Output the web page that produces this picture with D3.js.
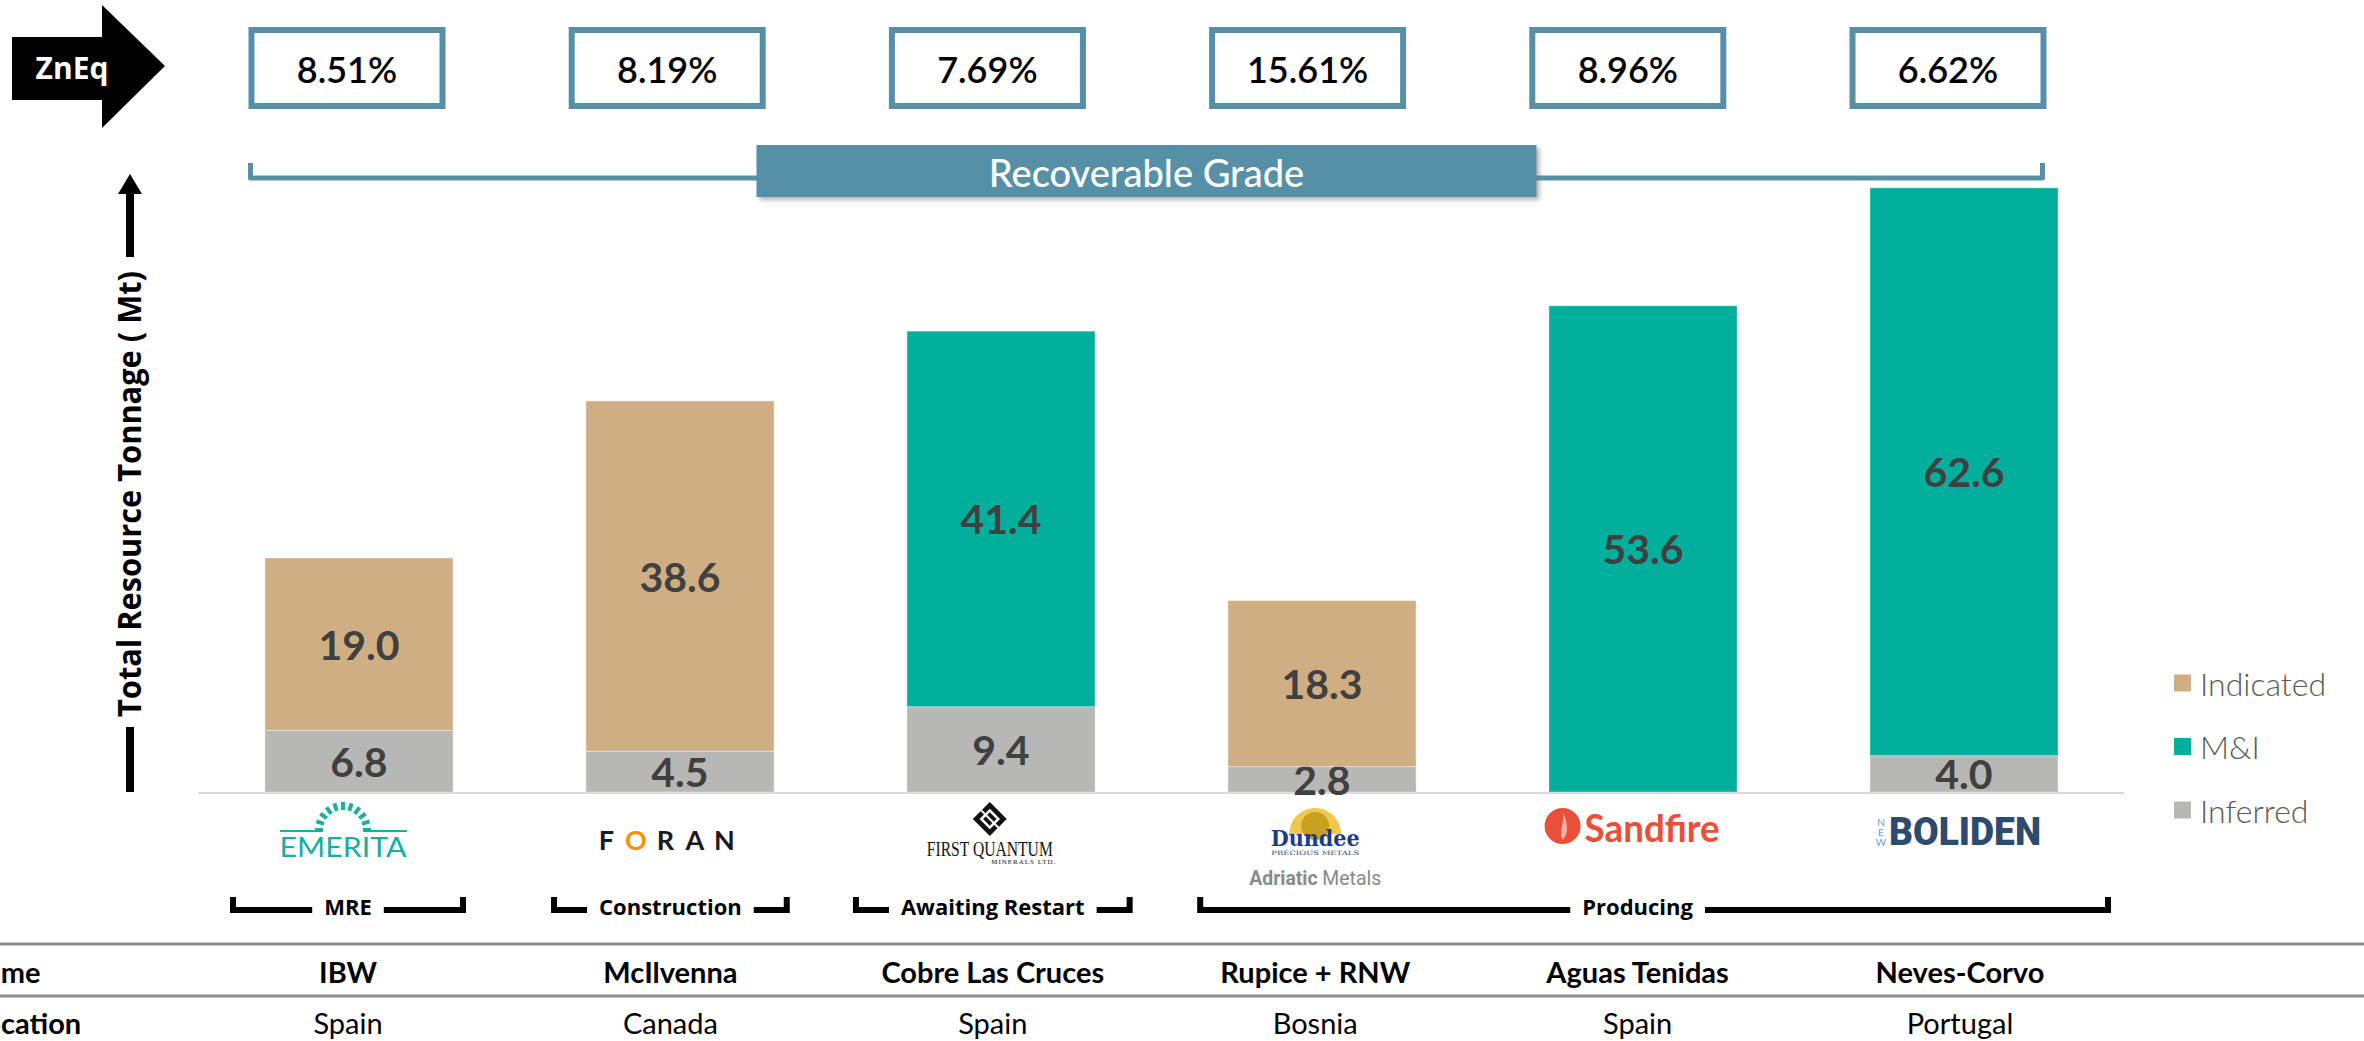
<!DOCTYPE html>
<html>
<head>
<meta charset="utf-8">
<script src="https://cdn.jsdelivr.net/npm/d3@7"></script>
<style>
  html, body { margin: 0; padding: 0; background: #fff; overflow: hidden; }
  svg { display: block; }
</style>
</head>
<body>
<div id="chart"></div>
<script>
// ---- data ----
const projects = ["IBW", "McIlvenna", "Cobre Las Cruces", "Rupice + RNW", "Aguas Tenidas", "Neves-Corvo"];
const countries = ["Spain", "Canada", "Spain", "Bosnia", "Spain", "Portugal"];
const companies = ["Emerita", "Foran", "First Quantum", "Dundee", "Sandfire", "Boliden"];
const grades = [8.51, 8.19, 7.69, 15.61, 8.96, 6.62];

const inferred = [6.8, 4.5, 9.4, 2.8, 0, 4.0];
const indicated = [19.0, 38.6, 0, 18.3, 0, 0];
const measuredIndicated = [0, 0, 41.4, 0, 53.6, 62.6];

const seriesKeys = ["Inferred", "Indicated", "M&I"];
const legendKeys = ["Indicated", "M&I", "Inferred"];
const colors = { "Indicated": "#D0AE84", "M&I": "#02AF9C", "Inferred": "#B7B8B5" };

const stages = [
  { label: "MRE", first: 0, last: 0 },
  { label: "Construction", first: 1, last: 1 },
  { label: "Awaiting Restart", first: 2, last: 2 },
  { label: "Producing", first: 3, last: 5 }
];

const W = 2364, H = 1041;
const teal = "#5790A6";
const sans = "Lato, 'Open Sans', sans-serif";
const calibri = "'Open Sans', 'DejaVu Sans', sans-serif";

const rows = projects.map((p, i) => ({
  project: p,
  "Inferred": inferred[i],
  "Indicated": indicated[i],
  "M&I": measuredIndicated[i]
}));

const svg = d3.select("#chart").append("svg")
  .attr("width", W).attr("height", H);

const defs = svg.append("defs");
const shadow = defs.append("filter").attr("id", "shadow")
  .attr("x", "-5%").attr("y", "-20%").attr("width", "115%").attr("height", "160%");
shadow.append("feDropShadow").attr("dx", 3).attr("dy", 3).attr("stdDeviation", 2)
  .attr("flood-color", "#777").attr("flood-opacity", 0.55);

// ---- scales ----
const x = d3.scaleBand().domain(projects).range([198.5, 2124.5])
  .paddingInner(0.414).paddingOuter(0.207);
const xc = d => x(d) + x.bandwidth() / 2;
// annotation columns (grades, logos, table) sit a touch left of the bars
const xa = d3.scalePoint().domain(projects).range([348, 1960]);
const xb = d3.scalePoint().domain(projects).range([347, 1948]);
const y = d3.scaleLinear().domain([0, 70]).range([792, 157]);

const stack = d3.stack().keys(seriesKeys);
const stacked = stack(rows);

// ---- baseline ----
svg.append("line")
  .attr("x1", x.range()[0]).attr("x2", x.range()[1])
  .attr("y1", y(0) + 1).attr("y2", y(0) + 1)
  .attr("stroke", "#d9d9d9").attr("stroke-width", 2);

// ---- bars ----
const layer = svg.append("g").selectAll("g")
  .data(stacked)
  .join("g")
  .attr("fill", d => colors[d.key]);

layer.selectAll("rect")
  .data(d => d.map(v => ({ key: d.key, v })))
  .join("rect")
  .attr("x", d => x(d.v.data.project))
  .attr("width", x.bandwidth())
  .attr("y", d => y(d.v[1]))
  .attr("height", d => y(d.v[0]) - y(d.v[1]))
  .attr("stroke", "rgba(255,255,255,0.35)")
  .attr("stroke-width", 1);

// value labels
layer.selectAll("text")
  .data(d => d.filter(v => v[1] - v[0] > 0).map(v => ({ key: d.key, v })))
  .join("text")
  .attr("x", d => xc(d.v.data.project))
  .attr("y", d => y((d.v[0] + d.v[1]) / 2))
  .attr("text-anchor", "middle")
  .attr("dominant-baseline", "central")
  .attr("fill", "#404040")
  .attr("font-family", sans)
  .attr("font-weight", 700)
  .attr("font-size", 41)
  .text(d => d3.format(".1f")(d.v[1] - d.v[0]));

// ---- legend ----
const legend = svg.append("g").selectAll("g")
  .data(legendKeys)
  .join("g")
  .attr("transform", (d, i) => `translate(2174, ${683 + i * 63.5})`);
legend.append("rect")
  .attr("x", 0).attr("y", -8.5).attr("width", 17).attr("height", 17)
  .attr("fill", d => colors[d]);
legend.append("text")
  .attr("x", 26).attr("y", 0)
  .attr("dominant-baseline", "central")
  .attr("fill", "#595959")
  .attr("font-family", sans)
  .attr("font-weight", 300)
  .attr("font-size", 32)
  .text(d => d);

// ---- ZnEq arrow ----
svg.append("polygon")
  .attr("points", "12,37 102,37 102,5 165,66 102,128 102,100 12,100")
  .attr("fill", "#000");
svg.append("text")
  .attr("x", 72).attr("y", 67)
  .attr("text-anchor", "middle").attr("dominant-baseline", "central")
  .attr("fill", "#fff").attr("font-family", calibri).attr("font-weight", 700)
  .attr("font-size", 30).text("ZnEq");

// ---- grade boxes ----
const boxW = 191, boxH = 76;
const boxes = svg.append("g").selectAll("g")
  .data(projects)
  .join("g")
  .attr("transform", d => `translate(${xb(d)}, 68)`);
boxes.append("rect")
  .attr("x", -boxW / 2).attr("y", -boxH / 2)
  .attr("width", boxW).attr("height", boxH)
  .attr("fill", "#fff").attr("stroke", teal).attr("stroke-width", 6);
boxes.append("text")
  .attr("text-anchor", "middle").attr("dominant-baseline", "central")
  .attr("y", 1)
  .attr("fill", "#000").attr("font-family", sans).attr("font-weight", 600)
  .attr("font-size", 36)
  .text((d, i) => d3.format(".2f")(grades[i]) + "%");

// ---- recoverable grade bracket ----
const bx0 = xb(projects[0]) - boxW / 2 - 1;
const bx1 = xb(projects[projects.length - 1]) + boxW / 2 - 1;
svg.append("path")
  .attr("d", `M${bx0},163 L${bx0},178 L${bx1},178 L${bx1},163`)
  .attr("fill", "none").attr("stroke", teal).attr("stroke-width", 5)
  .attr("stroke-linejoin", "round");
const bannerC = (bx0 + bx1) / 2;
svg.append("rect")
  .attr("x", bannerC - 390).attr("y", 145).attr("width", 780).attr("height", 52)
  .attr("fill", "#5690A6").attr("filter", "url(#shadow)");
svg.append("text")
  .attr("x", bannerC).attr("y", 172)
  .attr("text-anchor", "middle").attr("dominant-baseline", "central")
  .attr("fill", "#fff").attr("font-family", sans).attr("font-weight", 500).attr("font-size", 38)
  .text("Recoverable Grade");

// ---- y-axis title with arrow ----
const ax = 130;
svg.append("line").attr("x1", ax).attr("x2", ax).attr("y1", 792).attr("y2", 727)
  .attr("stroke", "#000").attr("stroke-width", 8);
svg.append("line").attr("x1", ax).attr("x2", ax).attr("y1", 257).attr("y2", 190)
  .attr("stroke", "#000").attr("stroke-width", 8);
svg.append("polygon")
  .attr("points", `${ax - 12},194 ${ax + 12},194 ${ax},174`).attr("fill", "#000");
svg.append("text")
  .attr("transform", `translate(128, 494) rotate(-90)`)
  .attr("text-anchor", "middle").attr("dominant-baseline", "central")
  .attr("fill", "#000").attr("font-family", calibri).attr("font-weight", 700)
  .attr("font-size", 33)
  .attr("textLength", 446).attr("lengthAdjust", "spacingAndGlyphs")
  .text("Total Resource Tonnage ( Mt)");

// ---- company logos (approximations) ----
const logos = svg.append("g");
function drawLogo(name, cx) {
  const g = logos.append("g").attr("transform", `translate(${cx},0)`);
  if (name === "Emerita") {
    const c = "#1AAE9F";
    const arch = d3.range(11).map(i => Math.PI * (i / 10));
    g.selectAll("line.a").data(arch).join("line")
      .attr("x1", a => -5 + Math.cos(a) * 20).attr("y1", a => 830 - Math.sin(a) * 20)
      .attr("x2", a => -5 + Math.cos(a) * 28).attr("y2", a => 830 - Math.sin(a) * 28)
      .attr("stroke", c).attr("stroke-width", 4);
    g.append("line").attr("x1", -68).attr("x2", -32).attr("y1", 831).attr("y2", 831)
      .attr("stroke", c).attr("stroke-width", 2);
    g.append("line").attr("x1", 22).attr("x2", 59).attr("y1", 831).attr("y2", 831)
      .attr("stroke", c).attr("stroke-width", 2);
    g.append("text").attr("x", -5).attr("y", 857).attr("text-anchor", "middle")
      .attr("fill", c).attr("font-family", sans).attr("font-weight", 400).attr("font-size", 27)
      .attr("textLength", 127).attr("lengthAdjust", "spacingAndGlyphs").text("EMERITA");
  } else if (name === "Foran") {
    "FORAN".split("").forEach((ch, i) => {
      g.append("text").attr("x", -5 + (i - 2) * 29.5).attr("y", 850).attr("text-anchor", "middle")
        .attr("fill", ch === "O" ? "#F39200" : "#1a1a1a")
        .attr("font-family", sans).attr("font-weight", 700).attr("font-size", 27).text(ch);
    });
  } else if (name === "First Quantum") {
    const e = g.append("g").attr("transform", "translate(-3,819) rotate(45)");
    e.append("rect").attr("x", -12).attr("y", -12).attr("width", 24).attr("height", 24)
      .attr("fill", "#111");
    e.append("rect").attr("x", -6).attr("y", -6).attr("width", 12).attr("height", 12)
      .attr("fill", "none").attr("stroke", "#fff").attr("stroke-width", 2.5);
    e.append("line").attr("x1", -12).attr("x2", 12).attr("y1", 0).attr("y2", 0)
      .attr("stroke", "#fff").attr("stroke-width", 2);
    g.append("text").attr("x", -3).attr("y", 856).attr("text-anchor", "middle")
      .attr("fill", "#111").attr("font-family", "'Liberation Serif', serif").attr("font-size", 20)
      .attr("textLength", 126).attr("lengthAdjust", "spacingAndGlyphs").text("FIRST QUANTUM");
    g.append("text").attr("x", 31).attr("y", 864).attr("text-anchor", "middle")
      .attr("fill", "#111").attr("font-family", "'Liberation Serif', serif").attr("font-size", 7)
      .attr("letter-spacing", 1).text("MINERALS LTD.");
  } else if (name === "Dundee") {
    g.append("path")
      .attr("d", d3.arc()({ innerRadius: 0, outerRadius: 26, startAngle: -Math.PI / 2, endAngle: Math.PI / 2 }))
      .attr("transform", "translate(0,834)").attr("fill", "#F0C850");
    g.append("circle").attr("cx", 0).attr("cy", 826).attr("r", 14).attr("fill", "#C9A020");
    g.append("text").attr("x", 0).attr("y", 846).attr("text-anchor", "middle")
      .attr("fill", "#1F3A8A").attr("font-family", "'DejaVu Serif', serif").attr("font-weight", 700)
      .attr("font-size", 22).attr("textLength", 89).attr("lengthAdjust", "spacingAndGlyphs").text("Dundee");
    g.append("text").attr("x", 0).attr("y", 855).attr("text-anchor", "middle")
      .attr("fill", "#1F3A8A").attr("font-family", "'DejaVu Serif', serif").attr("font-size", 6)
      .attr("textLength", 88).attr("lengthAdjust", "spacingAndGlyphs").text("PRECIOUS METALS");
    const t = g.append("text").attr("x", 0).attr("y", 885).attr("text-anchor", "middle")
      .attr("fill", "#8a8a8a").attr("font-family", "'Roboto', sans-serif").attr("font-size", 20)
      .attr("textLength", 132).attr("lengthAdjust", "spacingAndGlyphs");
    t.append("tspan").attr("font-weight", 700).text("Adriatic");
    t.append("tspan").attr("font-weight", 400).text(" Metals");
  } else if (name === "Sandfire") {
    g.append("circle").attr("cx", -75).attr("cy", 826).attr("r", 18).attr("fill", "#E8503A");
    g.append("path").attr("d", "M-75,840 C-80,830 -72,822 -75,812 C-70,822 -68,832 -75,840 Z")
      .attr("fill", "#f6b0a5");
    g.append("text").attr("x", -53).attr("y", 842)
      .attr("fill", "#E8503A").attr("font-family", sans).attr("font-weight", 700).attr("font-size", 38)
      .attr("textLength", 135).attr("lengthAdjust", "spacingAndGlyphs").text("Sandfire");
  } else if (name === "Boliden") {
    ["N", "E", "W"].forEach((ch, i) => {
      g.append("text").attr("x", -79).attr("y", 826 + i * 10).attr("text-anchor", "middle")
        .attr("fill", "#6A9BD0").attr("font-family", sans).attr("font-size", 10).text(ch);
    });
    g.append("text").attr("x", -71).attr("y", 845)
      .attr("fill", "#2E4A6E").attr("font-family", "'Roboto', sans-serif").attr("font-weight", 900)
      .attr("font-size", 38).attr("textLength", 152).attr("lengthAdjust", "spacingAndGlyphs").text("BOLIDEN");
  }
}
companies.forEach((c, i) => drawLogo(c, xa(projects[i])));

// ---- stage brackets ----
const stageG = svg.append("g").selectAll("g")
  .data(stages)
  .join("g");
stageG.each(function (s) {
  const g = d3.select(this);
  const c0 = xa(projects[s.first]), c1 = xa(projects[s.last]);
  const mid = (c0 + c1) / 2;
  const label = g.append("text")
    .attr("x", mid).attr("y", 906)
    .attr("text-anchor", "middle").attr("dominant-baseline", "central")
    .attr("fill", "#000").attr("font-family", calibri).attr("font-weight", 700)
    .attr("font-size", 22).text(s.label);
  const tw = label.node().getComputedTextLength();
  const half = Math.max(115, tw / 2 + 45);
  const x0 = c0 - half, x1 = s.first === s.last ? c1 + half : c1 + 148;
  const ly = 910;
  g.append("path")
    .attr("d", `M${x0},897 L${x0},${ly} L${mid - tw / 2 - 12},${ly} M${mid + tw / 2 + 12},${ly} L${x1},${ly} L${x1},897`)
    .attr("fill", "none").attr("stroke", "#000").attr("stroke-width", 6);
});

// ---- table ----
[944, 996].forEach(yy => {
  svg.append("line").attr("x1", 0).attr("x2", W).attr("y1", yy).attr("y2", yy)
    .attr("stroke", "#8c8c8c").attr("stroke-width", 3);
});
svg.append("text").attr("x", -36).attr("y", 971).attr("dominant-baseline", "central")
  .attr("font-family", sans).attr("font-weight", 700).attr("font-size", 29).text("Name");
svg.append("text").attr("x", -30).attr("y", 1022).attr("dominant-baseline", "central")
  .attr("font-family", sans).attr("font-weight", 700).attr("font-size", 29).text("Location");

svg.append("g").selectAll("text")
  .data(projects)
  .join("text")
  .attr("x", d => xa(d)).attr("y", 971)
  .attr("text-anchor", "middle").attr("dominant-baseline", "central")
  .attr("fill", "#000").attr("font-family", sans).attr("font-weight", 700).attr("font-size", 29)
  .text(d => d);

svg.append("g").selectAll("text")
  .data(countries)
  .join("text")
  .attr("x", (d, i) => xa(projects[i])).attr("y", 1022)
  .attr("text-anchor", "middle").attr("dominant-baseline", "central")
  .attr("fill", "#000").attr("font-family", sans).attr("font-weight", 400).attr("font-size", 29)
  .text(d => d);
</script>
</body>
</html>
